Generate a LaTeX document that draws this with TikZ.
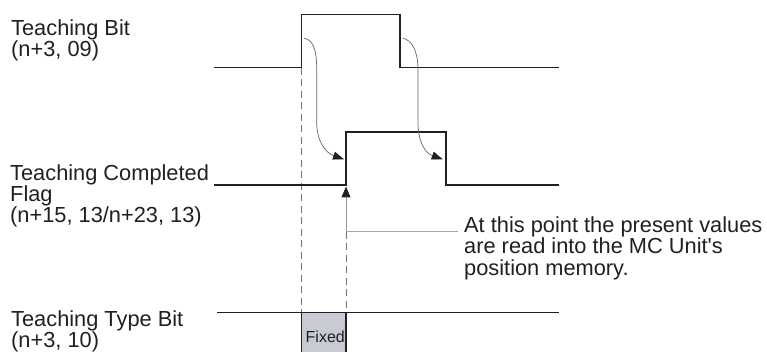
\documentclass[tikz,border=0pt]{standalone}
\usepackage{fontspec}
\setmainfont{Liberation Sans}
\usetikzlibrary{arrows.meta}
\definecolor{fixgray}{HTML}{C8CBD3}
\definecolor{ink}{HTML}{231F20}
\begin{document}
\begin{tikzpicture}[x=1pt,y=-1pt,
  sig/.style={draw=ink, line width=1.15pt},
  lbl/.style={anchor=base west, inner sep=0pt, align=left, font=\fontsize{21.8}{21}\selectfont, text=ink},
  guide/.style={draw=black!55, dash pattern=on 7pt off 4.5pt, line width=0.8pt},
  curvearr/.style={draw=black!60, line width=0.7pt, -{Triangle[length=11pt,width=8pt,color=ink]}},
  readarr/.style={draw=black!40, line width=1pt, -{Triangle[length=11pt,width=9pt,color=ink]}},
]
\useasboundingbox (0,0) rectangle (767,352);

% labels (anchor = baseline of last line)
\node[lbl] (tb) at (11,57) {Teaching Bit\\(n+3, 09)};
\node[lbl] (tc) at (10,223) {Teaching Completed\\Flag\\(n+15, 13/n+23, 13)};
\node[lbl] (tt) at (11,347.5) {Teaching Type Bit\\(n+3, 10)};
\node[lbl] (note) at (464,275) {At this point the present values\\are read into the MC Unit\textquotesingle s\\position memory.};

% key coordinates
\coordinate (bitrise) at (301.7,67.7);
\coordinate (flagrise) at (346,185);
\coordinate (typeA) at (301.7,312.7);
\coordinate (typeB) at (346,312.7);
\coordinate (readpt) at (346,231.7);
\coordinate (noteend) at (458,231.7);

% dashed guides
\draw[guide] (bitrise) -- (typeA);
\draw[guide] (readpt) -- (typeB);

% fixed box
\filldraw[fill=fixgray, draw=ink, line width=1.1pt] (typeA) rectangle (346,353);
\node[anchor=base west, inner sep=0pt, font=\fontsize{16}{16}\selectfont, text=ink] (fx) at (305.5,342) {Fixed};

% signals
\draw[sig] (214,67.7) -- (bitrise) -- (301.7,14.3) -- (400,14.3) -- (400,67.7) -- (559,67.7);
\draw[sig] (214,185) -- (flagrise) -- (346,132) -- (446,132) -- (446,185) -- (559,185);
\draw[sig] (217,312.7) -- (559,312.7);

% causal curves
\draw[curvearr] (304.3,38.3) .. controls (314,40) and (316.7,52) .. (316.7,70) -- (316.7,122) .. controls (316.7,142) and (326,153) .. (344,159.3);
\draw[curvearr] (402.7,38.3) .. controls (412.4,40) and (418,52) .. (418,70) -- (418,122) .. controls (418,142) and (425,153) .. (442.7,159.3);

% read point arrow and annotation leader
\draw[readarr] (readpt) -- (346,186.5);
\draw[draw=black!35, line width=1pt] (readpt) -- (noteend);
\end{tikzpicture}
\end{document}
